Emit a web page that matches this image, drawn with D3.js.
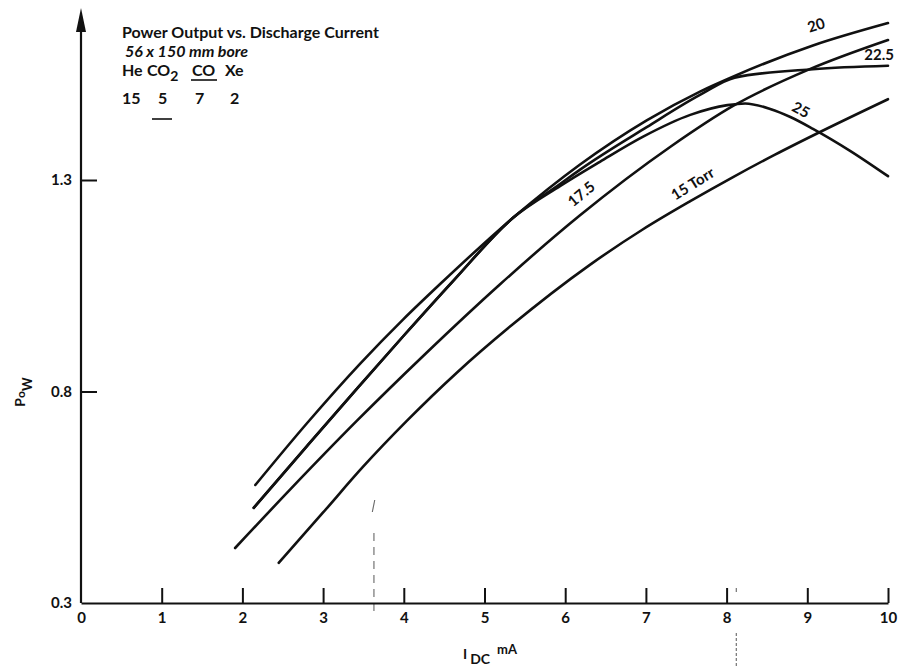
<!DOCTYPE html>
<html>
<head>
<meta charset="utf-8">
<script src="https://cdn.jsdelivr.net/npm/d3@7"></script>
<style>
  html, body { margin: 0; padding: 0; background: #ffffff; }
  svg { display: block; }
  text { font-family: Lato, "Open Sans", "DejaVu Sans", sans-serif; fill: #111; }
</style>
</head>
<body>
<svg id="chart" width="900" height="670"></svg>
<script>
// ---- data: output power (W) against discharge current (mA), one series per fill pressure ----
const xTickValues = [0, 1, 2, 3, 4, 5, 6, 7, 8, 9, 10];
const yTickValues = [0.3, 0.8, 1.3];
const yTickLabels = ["0.3", "0.8", "1.3"];

const pressureNames = ["15 Torr", "17.5", "20", "22.5", "25"];

const current15  = [2.45, 3.00, 3.49, 4.04, 4.66, 5.32, 6.31, 6.96, 7.55, 8.08, 8.60, 9.12, 10.0];
const power15    = [0.395, 0.514, 0.621, 0.731, 0.845, 0.954, 1.100, 1.183, 1.250, 1.307, 1.360, 1.410, 1.491];

const current175 = [1.91, 2.59, 3.42, 4.24, 5.19, 6.18, 7.30, 8.08, 9.03, 10.0];
const power175   = [0.430, 0.568, 0.731, 0.884, 1.053, 1.216, 1.378, 1.475, 1.562, 1.631];

const current20  = [2.16, 2.80, 3.46, 3.99, 4.45, 5.35, 6.18, 7.01, 7.67, 8.10, 9.07, 10.0];
const power20    = [0.579, 0.725, 0.866, 0.970, 1.054, 1.210, 1.336, 1.441, 1.509, 1.546, 1.618, 1.671];

const current225 = [2.14, 2.80, 3.42, 3.99, 4.61, 5.35, 5.94, 6.18, 7.01, 7.67, 8.10, 9.07, 10.0];
const power225   = [0.525, 0.671, 0.807, 0.930, 1.061, 1.210, 1.291, 1.324, 1.425, 1.501, 1.542, 1.562, 1.570];

const current25  = [2.14, 2.80, 3.42, 3.99, 4.61, 5.35, 5.94, 6.43, 6.96, 7.55, 8.01, 8.23, 8.54, 8.79, 9.07, 9.53, 10.0];
const power25    = [0.525, 0.671, 0.807, 0.930, 1.061, 1.210, 1.286, 1.343, 1.402, 1.454, 1.477, 1.481, 1.468, 1.449, 1.421, 1.369, 1.309];

const seriesCurrents = [current15, current175, current20, current225, current25];
const seriesPowers   = [power15, power175, power20, power225, power25];

// curve captions: anchor (mA, W) and text rotation
const captionCurrent = [7.58, 6.20, 9.11, 9.89, 8.92];
const captionPower   = [1.291, 1.267, 1.666, 1.595, 1.466];
const captionAngle   = [-32, -40, -18, 0, 28];

// ---- layout ----
const svg = d3.select("#chart");
const x = d3.scaleLinear().domain([0, 10]).range([81, 888]);
const y = d3.scaleLinear().domain([0.3, 1.3]).range([603, 180]);

const ink = "#111";

// faint pencil guide lines left on the sheet
const guides = svg.append("g").attr("stroke", "#666").attr("stroke-width", 1.1).attr("fill", "none");
guides.append("line").attr("x1", x(3.64)).attr("x2", x(3.61)).attr("y1", 500).attr("y2", 512);
guides.append("line").attr("x1", x(3.63)).attr("x2", x(3.63)).attr("y1", 533).attr("y2", 616)
  .attr("stroke-dasharray", "8,6");
guides.append("line").attr("x1", x(8.12)).attr("x2", x(8.12)).attr("y1", 588).attr("y2", 592);
guides.append("line").attr("x1", x(8.12)).attr("x2", x(8.12)).attr("y1", 633).attr("y2", 668)
  .attr("stroke-dasharray", "3,2");

// x axis, ticks pointing up into the plot
const xAxis = d3.axisBottom(x).tickValues(xTickValues).tickFormat(d3.format("d"))
  .tickSize(-15).tickSizeOuter(0).tickPadding(9);
const gx = svg.append("g").attr("transform", `translate(0,${y(0.3)})`).call(xAxis);
gx.select(".domain").attr("stroke", ink).attr("stroke-width", 2.2);
gx.selectAll(".tick line").attr("stroke", ink).attr("stroke-width", 2)
  .filter(d => d === 0).remove();
gx.selectAll(".tick text").attr("font-size", 15).attr("font-weight", 700).attr("fill", ink);

// y axis, ticks pointing right
const yAxis = d3.axisLeft(y).tickValues(yTickValues).tickFormat((d, i) => yTickLabels[i])
  .tickSize(-16).tickSizeOuter(0).tickPadding(9);
const gy = svg.append("g").attr("transform", `translate(${x(0)},0)`).call(yAxis);
gy.select(".domain").remove();
gy.selectAll(".tick line").attr("stroke", ink).attr("stroke-width", 2)
  .filter(d => d === 0.3).remove();
gy.selectAll(".tick text").attr("font-size", 15).attr("font-weight", 700).attr("fill", ink)
  .attr("dy", "0.32em");

// vertical axis line with arrow head
svg.append("line").attr("x1", x(0)).attr("x2", x(0)).attr("y1", y(0.3)).attr("y2", 24)
  .attr("stroke", ink).attr("stroke-width", 2.2);
svg.append("path")
  .attr("d", `M${x(0)},8 L${x(0) - 5},32 L${x(0) + 5},32 Z`)
  .attr("fill", ink);

// curves
const line = d3.line().x(d => x(d[0])).y(d => y(d[1])).curve(d3.curveMonotoneX);
svg.append("g").selectAll("path")
  .data(seriesCurrents.map((cs, k) => cs.map((c, i) => [c, seriesPowers[k][i]])))
  .join("path")
  .attr("d", line)
  .attr("fill", "none")
  .attr("stroke", ink)
  .attr("stroke-width", 2.6)
  .attr("stroke-linecap", "round")
  .attr("stroke-linejoin", "round");

// curve captions
svg.append("g").selectAll("text")
  .data(pressureNames)
  .join("text")
  .attr("transform", (d, i) => `translate(${x(captionCurrent[i])},${y(captionPower[i])}) rotate(${captionAngle[i]})`)
  .attr("text-anchor", "middle")
  .attr("dy", "0.35em")
  .attr("font-size", 15)
  .attr("font-weight", 700)
  .text(d => d);

// axis titles
const yt = svg.append("text")
  .attr("transform", `translate(25,392) rotate(-90)`)
  .attr("text-anchor", "middle")
  .attr("font-size", 14).attr("font-weight", 700);
yt.append("tspan").text("P");
yt.append("tspan").attr("font-size", 12).text("o");
yt.append("tspan").attr("font-size", 13).attr("dy", "0.5em").text("W");

const xt = svg.append("text").attr("x", 463).attr("y", 659)
  .attr("font-size", 14).attr("font-weight", 700);
xt.append("tspan").text("I");
xt.append("tspan").attr("dx", 3).attr("dy", 5).text("DC");
xt.append("tspan").attr("dx", 7).attr("dy", -10).attr("font-size", 13).text("mA");

// legend block: tube and gas mixture
const note = svg.append("g").attr("font-size", 16).attr("font-weight", 700);
note.append("text").attr("x", 122).attr("y", 38).text("Power Output vs. Discharge Current");
note.append("text").attr("x", 125).attr("y", 57).attr("font-style", "italic").text("56 x 150 mm bore");
note.append("text").attr("x", 122).attr("y", 76).text("He");
const co2 = note.append("text").attr("x", 147).attr("y", 76);
co2.append("tspan").text("CO");
co2.append("tspan").attr("dy", 5).attr("font-size", 14).text("2");
note.append("text").attr("x", 192).attr("y", 76).text("CO");
note.append("line").attr("x1", 191).attr("x2", 217).attr("y1", 80).attr("y2", 80)
  .attr("stroke", ink).attr("stroke-width", 1.6);
note.append("text").attr("x", 225).attr("y", 76).text("Xe");
note.append("text").attr("x", 122).attr("y", 104).text("15");
note.append("text").attr("x", 158).attr("y", 104).text("5");
note.append("line").attr("x1", 152).attr("x2", 172).attr("y1", 119).attr("y2", 119)
  .attr("stroke", ink).attr("stroke-width", 1.6);
note.append("text").attr("x", 195).attr("y", 104).text("7");
note.append("text").attr("x", 230).attr("y", 104).text("2");
</script>
</body>
</html>
